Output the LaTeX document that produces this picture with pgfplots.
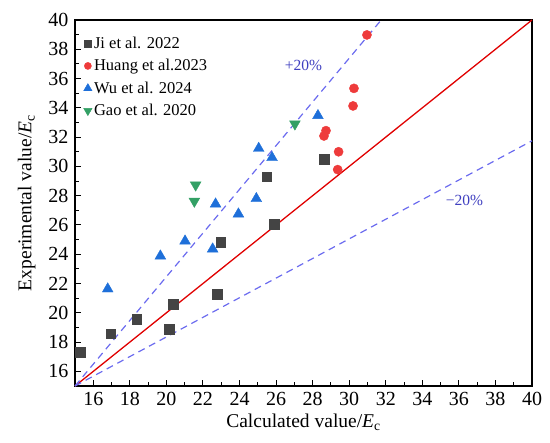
\documentclass[border=0pt]{standalone}
\usepackage{fontspec}
\setmainfont{Liberation Serif}
\usepackage{pgfplots}
\pgfplotsset{compat=1.18}
\definecolor{cgray}{HTML}{444444}
\definecolor{cred}{HTML}{EE3B3B}
\definecolor{cblue}{HTML}{1E6FD9}
\definecolor{cgreen}{HTML}{33A065}
\definecolor{cdash}{HTML}{6B6BEF}
\definecolor{clab}{HTML}{3F3FC0}
\definecolor{cline}{HTML}{E00000}
\begin{document}
\begin{tikzpicture}
\begin{axis}[
  name=ax,
  scale only axis,
  width=457pt, height=366pt,
  xmin=15, xmax=40, ymin=15, ymax=40,
  xtick={16,18,...,40}, ytick={16,18,...,40},
  minor tick num=1,
  tick align=inside,
  xtick pos=bottom, ytick pos=left,
  major tick length=6pt, minor tick length=3.5pt,
  axis line style={line width=1.2pt},
  tick style={line width=1pt, black},
  tick label style={font=\fontsize{20}{22}\selectfont},
  xticklabel style={yshift=-3pt},
  yticklabel style={xshift=-3pt},
  /pgf/number format/assume math mode=true,
  xlabel={Calculated value/\textit{E}\textsubscript{c}},
  ylabel={Experimental value/\textit{E}\textsubscript{c}},
  label style={font=\fontsize{19.5}{22}\selectfont},
  xlabel style={yshift=-1pt},
  ylabel style={yshift=6pt},
  clip=false,
  legend style={draw=none, fill=none, at={(0.012,0.965)}, anchor=north west,
    font=\fontsize{16.5}{19}\selectfont, row sep=5.5pt,
    /tikz/every even column/.append style={column sep=0pt}},
  legend cell align=left,
  legend image code/.code={\draw[#1] plot coordinates {(0.2cm,0cm)};},
  legend image post style={/tikz/every mark/.append style={scale=0.78}},
]
\addplot[only marks, mark=square*, mark size=4.8pt, color=cgray, mark options={fill=cgray, draw=cgray}] coordinates {
 (15.27,17.3) (16.95,18.57) (18.37,19.58) (20.14,18.9) (20.36,20.58)
 (22.79,21.28) (22.97,24.81) (25.9,26.07) (25.49,29.3) (28.64,30.48)};
\addlegendentry{Ji et al. 2022}
\addplot[only marks, mark=*, mark size=4.6pt, color=cred, mark options={fill=cred, draw=cred}] coordinates {
 (30.97,38.98) (30.26,35.33) (30.21,34.13) (28.73,32.44) (28.62,32.08)
 (29.42,31.0) (29.37,29.78)};
\addlegendentry{Huang et al.2023}
\addplot[only marks, mark=triangle*, mark size=6.2pt, color=cblue, mark options={fill=cblue, draw=cblue}] coordinates {
 (16.79,21.63) (19.67,23.88) (21.02,24.9) (22.53,24.36) (22.69,27.43)
 (23.94,26.75) (24.92,27.8) (25.05,31.23) (25.78,30.6) (28.29,33.47)};
\addlegendentry{Wu et al. 2024}
\addplot[only marks, mark=triangle*, mark size=6.2pt, color=cgreen, mark options={fill=cgreen, draw=cgreen, rotate=180}] coordinates {
 (21.6,28.73) (21.53,27.62) (27.03,32.9)};
\addlegendentry{Gao et al. 2020}
\addplot[cline, line width=1.3pt, forget plot] coordinates {(15,15) (40,40)};
\addplot[cdash, line width=1.2pt, dash pattern=on 7pt off 5pt, forget plot] coordinates {(15,15) (31.75,40)};
\addplot[cdash, line width=1.2pt, dash pattern=on 7pt off 5pt, forget plot] coordinates {(15,15) (40,31.75)};
\node[clab, font=\fontsize{15.5}{18}\selectfont] at (axis cs:27.5,36.9) {+20\%};
\node[clab, font=\fontsize{15.5}{18}\selectfont] at (axis cs:36.3,27.7) {\textminus20\%};
\end{axis}
\path (ax.south west) ++(-75pt,-57pt) coordinate (bbsw);
\path (ax.north east) ++(18pt,20pt) coordinate (bbne);
\path (bbsw) (bbne);
\end{tikzpicture}
\end{document}
